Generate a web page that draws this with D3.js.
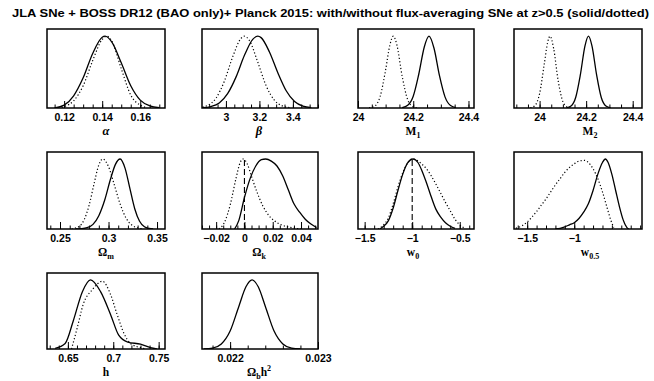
<!DOCTYPE html>
<html>
<head>
<meta charset="utf-8">
<script src="https://cdn.jsdelivr.net/npm/d3@7/dist/d3.min.js"></script>
<style>
  body { margin: 0; background: #fff; }
  svg { display: block; }
</style>
</head>
<body>
<svg id="chart"></svg>
<script>
const title = "JLA SNe + BOSS DR12 (BAO only)+ Planck 2015: with/without flux-averaging SNe at z>0.5 (solid/dotted)";

// marginalised 1D likelihoods, peak normalised to 1 (solid = with flux-averaging, dotted = without)
const alphaSolid = [[0.115,0],[0.12,0.04],[0.125,0.17],[0.13,0.42],[0.135,0.76],[0.14,0.986],[0.1415,1],[0.145,0.92],[0.15,0.63],[0.155,0.31],[0.16,0.11],[0.165,0.03],[0.17,0.004]];
const alphaDotted = [[0.117,0],[0.12,0.02],[0.125,0.1],[0.13,0.31],[0.135,0.66],[0.14,0.955],[0.1425,1],[0.145,0.935],[0.15,0.55],[0.155,0.18],[0.16,0.04],[0.163,0.008]];
const betaSolid = [[2.86,0.004],[2.91,0.02],[2.96,0.07],[3.01,0.2],[3.06,0.43],[3.11,0.73],[3.16,0.956],[3.19,1],[3.21,0.98],[3.26,0.78],[3.31,0.49],[3.36,0.24],[3.41,0.09],[3.46,0.026],[3.51,0.006]];
const betaDotted = [[2.86,0.012],[2.89,0.035],[2.94,0.135],[2.99,0.37],[3.04,0.71],[3.09,0.97],[3.11,1],[3.14,0.94],[3.19,0.64],[3.24,0.31],[3.29,0.107],[3.34,0.026],[3.38,0.006]];
const m1Solid = [[24.16,0.005],[24.18,0.037],[24.2,0.164],[24.22,0.47],[24.24,0.85],[24.257,1],[24.275,0.835],[24.295,0.45],[24.315,0.155],[24.335,0.034],[24.355,0.005]];
const m1Dotted = [[24.04,0.002],[24.06,0.025],[24.08,0.158],[24.1,0.53],[24.115,0.87],[24.128,1],[24.14,0.89],[24.16,0.44],[24.18,0.115],[24.2,0.016],[24.215,0.002]];
const m2Solid = [[24.115,0.003],[24.135,0.028],[24.155,0.146],[24.175,0.46],[24.195,0.865],[24.21,1],[24.225,0.865],[24.245,0.46],[24.265,0.146],[24.285,0.028],[24.305,0.003]];
const m2Dotted = [[23.96,0.003],[23.98,0.034],[24.0,0.2],[24.02,0.61],[24.035,0.92],[24.045,1],[24.06,0.835],[24.08,0.375],[24.1,0.089],[24.12,0.011],[24.135,0.002]];
const omSolid = [[0.266,0],[0.272,0.004],[0.278,0.018],[0.284,0.066],[0.29,0.19],[0.296,0.41],[0.302,0.71],[0.307,0.92],[0.312,1],[0.317,0.87],[0.322,0.58],[0.327,0.29],[0.332,0.11],[0.337,0.031],[0.342,0.007],[0.346,0.001]];
const omDotted = [[0.262,0],[0.265,0.01],[0.27,0.04],[0.275,0.135],[0.28,0.34],[0.285,0.64],[0.29,0.915],[0.294,1],[0.3,0.89],[0.306,0.63],[0.312,0.355],[0.318,0.158],[0.324,0.056],[0.33,0.016],[0.336,0.003]];
const okSolid = [[-0.007,0],[-0.004,0.12],[0,0.45],[0.004,0.72],[0.008,0.9],[0.012,0.99],[0.015,1],[0.019,0.97],[0.023,0.9],[0.027,0.76],[0.031,0.56],[0.035,0.36],[0.039,0.24],[0.043,0.14],[0.047,0.07],[0.051,0.02]];
const okDotted = [[-0.018,0],[-0.014,0.1],[-0.01,0.35],[-0.006,0.72],[-0.003,0.95],[-0.001,1],[0.002,0.93],[0.005,0.75],[0.009,0.52],[0.013,0.33],[0.017,0.2],[0.021,0.12],[0.026,0.06],[0.031,0.03],[0.036,0.01],[0.04,0]];
const w0Solid = [[-1.34,0],[-1.3,0.04],[-1.25,0.12],[-1.2,0.3],[-1.15,0.55],[-1.1,0.78],[-1.05,0.94],[-0.99,1],[-0.94,0.95],[-0.9,0.84],[-0.85,0.66],[-0.8,0.46],[-0.75,0.28],[-0.7,0.17],[-0.65,0.09],[-0.6,0.04],[-0.55,0.01]];
const w0Dotted = [[-1.36,0],[-1.3,0.06],[-1.25,0.16],[-1.2,0.36],[-1.15,0.6],[-1.1,0.8],[-1.05,0.94],[-1.0,1],[-0.95,0.98],[-0.9,0.93],[-0.85,0.86],[-0.8,0.76],[-0.75,0.64],[-0.7,0.51],[-0.65,0.38],[-0.6,0.26],[-0.55,0.14],[-0.5,0.06],[-0.45,0.01]];
const w05Solid = [[-1.2,0],[-1.15,0.01],[-1.1,0.03],[-1.05,0.06],[-1.0,0.09],[-0.95,0.15],[-0.9,0.24],[-0.85,0.36],[-0.8,0.55],[-0.75,0.78],[-0.7,0.95],[-0.67,1],[-0.64,0.95],[-0.6,0.78],[-0.56,0.55],[-0.52,0.32],[-0.48,0.13],[-0.44,0.02],[-0.42,0]];
const w05Dotted = [[-1.62,0.01],[-1.55,0.05],[-1.5,0.1],[-1.45,0.17],[-1.4,0.25],[-1.35,0.34],[-1.3,0.43],[-1.25,0.53],[-1.2,0.63],[-1.15,0.72],[-1.1,0.81],[-1.05,0.88],[-1.0,0.93],[-0.95,0.97],[-0.89,0.98],[-0.85,0.95],[-0.8,0.86],[-0.75,0.72],[-0.7,0.53],[-0.65,0.3],[-0.61,0.12],[-0.58,0.02]];
const hSolid = [[0.636,0.01],[0.647,0.08],[0.656,0.41],[0.666,0.83],[0.675,1],[0.686,0.83],[0.697,0.5],[0.706,0.2],[0.716,0.1],[0.73,0.07],[0.741,0.02],[0.748,0]];
const hDotted = [[0.654,0],[0.66,0.29],[0.667,0.65],[0.677,0.86],[0.688,0.98],[0.697,0.79],[0.704,0.51],[0.712,0.22],[0.719,0.08],[0.73,0.02],[0.736,0]];
const obh2Solid = [[0.0217,0.002],[0.0218,0.013],[0.0219,0.073],[0.022,0.26],[0.0221,0.62],[0.02218,0.9],[0.02225,1],[0.02232,0.9],[0.0224,0.62],[0.0225,0.26],[0.0226,0.073],[0.0227,0.013],[0.0228,0.002]];

const xDomains = [[0.111,0.173],[2.857,3.55],[24.0,24.42],[23.89,24.44],[0.2366,0.3582],[-0.03,0.052],[-1.57,-0.35],[-1.64,-0.28],[0.627,0.757],[0.02168,0.023]];
const majorTicks = [[0.12,0.14,0.16],[3,3.2,3.4],[24,24.2,24.4],[24,24.2,24.4],[0.25,0.3,0.35],[-0.02,0,0.02,0.04],[-1.5,-1,-0.5],[-1.5,-1],[0.65,0.7,0.75],[0.022,0.023]];
const tickLabels = [["0.12","0.14","0.16"],["3","3.2","3.4"],["24","24.2","24.4"],["24","24.2","24.4"],["0.25","0.3","0.35"],["\u22120.02","0","0.02","0.04"],["\u22121.5","\u22121","\u22120.5"],["\u22121.5","\u22121"],["0.65","0.7","0.75"],["0.022","0.023"]];
const minorSteps = [0.005,0.05,0.05,0.05,0.01,0.005,0.1,0.1,0.01,0.0002];
const refLines = [null,null,null,null,null,0,-1,null,null,null];
const axisLabels = [
  [["\u03b1","it"]], [["\u03b2","it"]], [["M",""],["1","sub"]], [["M",""],["2","sub"]],
  [["\u03a9",""],["m","sub"]], [["\u03a9",""],["k","sub"]], [["w",""],["0","sub"]], [["w",""],["0.5","sub"]],
  [["h",""]], [["\u03a9",""],["b","sub"],["h",""],["2","sup"]]
];
const solidCurves = [alphaSolid,betaSolid,m1Solid,m2Solid,omSolid,okSolid,w0Solid,w05Solid,hSolid,obh2Solid];
const dottedCurves = [alphaDotted,betaDotted,m1Dotted,m2Dotted,omDotted,okDotted,w0Dotted,w05Dotted,hDotted,null];

// layout
const W = 654, H = 381;
const colLeft = [47, 202, 358, 514], colRight = [165, 318, 474, 642];
const rowTop = [29, 152, 273], rowBottom = [108, 229, 349];
const labelX = [106, 259, 413, 590];

const svg = d3.select("#chart").attr("width", W).attr("height", H);

svg.append("text")
  .attr("x", 12).attr("y", 17)
  .attr("textLength", 637).attr("lengthAdjust", "spacingAndGlyphs")
  .style("font-family", "'Liberation Sans', Arial, sans-serif")
  .style("font-weight", "bold").style("font-size", "10.5px")
  .text(title);

const defs = svg.append("defs");

solidCurves.forEach((solid, i) => {
  const r = Math.floor(i / 4), c = i % 4;
  const x0 = colLeft[c], x1 = colRight[c], y0 = rowTop[r], y1 = rowBottom[r];

  const x = d3.scaleLinear().domain(xDomains[i]).range([x0, x1]);
  const y = d3.scaleLinear().domain([0, 1.1]).range([y1, y0]);

  const g = svg.append("g");

  defs.append("clipPath").attr("id", "clip" + i)
    .append("rect").attr("x", x0).attr("y", y0).attr("width", x1 - x0).attr("height", y1 - y0);

  // minor + major ticks pointing up from the bottom edge
  const step = minorSteps[i];
  const d = xDomains[i];
  const minor = d3.range(Math.ceil(d[0] / step - 1e-6), Math.floor(d[1] / step + 1e-6) + 1).map(k => k * step);

  g.append("g")
    .attr("transform", `translate(0,${y1})`)
    .call(d3.axisBottom(x).tickValues(minor).tickSize(-3.5).tickFormat(""))
    .call(a => a.select(".domain").remove())
    .call(a => a.selectAll("line").attr("stroke", "#000").attr("stroke-width", 1));

  const major = majorTicks[i];
  const labels = tickLabels[i];
  g.append("g")
    .attr("transform", `translate(0,${y1})`)
    .call(d3.axisBottom(x).tickValues(major).tickSize(-7).tickPadding(0)
      .tickFormat((v, j) => labels[j]))
    .call(a => a.select(".domain").remove())
    .call(a => a.selectAll("line").attr("stroke", "#000").attr("stroke-width", 1))
    .call(a => a.selectAll("text")
      .attr("y", 13).attr("dy", null)
      .attr("fill", "#000")
      .style("font-family", "'Liberation Sans', Arial, sans-serif")
      .style("font-weight", "bold").style("font-size", "10.5px"));

  const line = d3.line()
    .x(p => x(p[0])).y(p => y(p[1]))
    .curve(d3.curveMonotoneX);

  const plot = g.append("g").attr("clip-path", `url(#clip${i})`);

  if (dottedCurves[i]) {
    plot.append("path")
      .attr("d", line(dottedCurves[i]))
      .attr("fill", "none").attr("stroke", "#000")
      .attr("stroke-width", 1.2).attr("stroke-dasharray", "1.2,2.2");
  }

  plot.append("path")
    .attr("d", line(solid))
    .attr("fill", "none").attr("stroke", "#000").attr("stroke-width", 1.3);

  if (refLines[i] !== null) {
    plot.append("line")
      .attr("x1", x(refLines[i])).attr("x2", x(refLines[i]))
      .attr("y1", y(0)).attr("y2", y(1))
      .attr("stroke", "#000").attr("stroke-width", 1.1)
      .attr("stroke-dasharray", "6,3");
  }

  // frame
  g.append("rect")
    .attr("x", x0).attr("y", y0).attr("width", x1 - x0).attr("height", y1 - y0)
    .attr("fill", "none").attr("stroke", "#000").attr("stroke-width", 1.5);

  // axis label
  const t = g.append("text")
    .attr("x", labelX[c]).attr("y", y1 + 27)
    .attr("text-anchor", "middle")
    .style("font-family", "'Liberation Serif', 'Times New Roman', serif")
    .style("font-weight", "bold").style("font-size", "11.5px");
  axisLabels[i].forEach(([s, kind], j) => {
    const ts = t.append("tspan").text(s);
    if (kind === "it") ts.style("font-style", "italic").style("font-size", "12.5px");
    if (kind === "sub") ts.attr("dy", 3).style("font-size", "8px");
    if (kind === "sup") ts.attr("dy", -5).style("font-size", "8px");
    const prev = axisLabels[i][j - 1];
    if (j > 0 && (prev[1] === "sub" || prev[1] === "sup") && kind === "") ts.attr("dy", prev[1] === "sub" ? -3 : 5);
  });
});
</script>
</body>
</html>
